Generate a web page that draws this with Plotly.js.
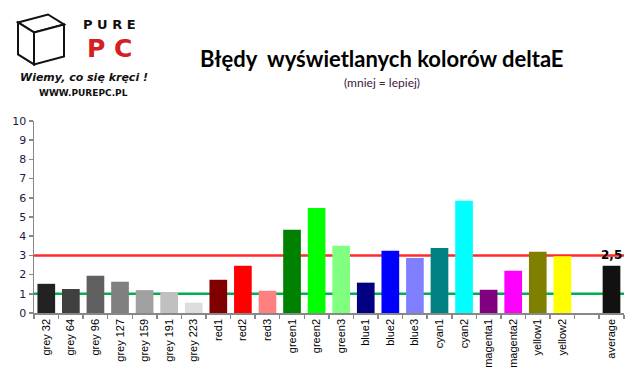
<!DOCTYPE html>
<html><head><meta charset="utf-8">
<script src="https://cdn.plot.ly/plotly-3.0.1.min.js"></script>
<style>html,body{margin:0;padding:0;background:#fff}#c{width:639px;height:379px}</style>
</head><body><div id="c"></div>
<script>
const categories = ["grey 32","grey 64","grey 96","grey 127","grey 159","grey 191","grey 223","red1","red2","red3","green1","green2","green3","blue1","blue2","blue3","cyan1","cyan2","magenta1","magenta2","yellow1","yellow2"," ","average"];
const values = [1.52,1.25,1.94,1.63,1.19,1.09,0.54,1.73,2.46,1.16,4.33,5.47,3.50,1.58,3.24,2.87,3.39,5.84,1.21,2.20,3.19,2.95,null,2.46];
const barColors = ["#222222","#404040","#606060","#808080","#a0a0a0","#c0c0c0","#dddddd","#800000","#ff0000","#ff8080","#008000","#00ff00","#80ff80","#000080","#0000ff","#8080ff","#008080","#00ffff","#800080","#ff00ff","#808000","#ffff00","#ffffff","#111111"];
const yTicks = [0,1,2,3,4,5,6,7,8,9,10];
const refLines = [3, 1];
const refColors = ["#ff2a2a", "#00b050"];
const averageLabel = "2,5";

const L = 34, R = 624, T = 120.7, B = 313;
const px = x => (x - L) / (R - L);
const py = y => (B - y) / (B - T);

const shapes = refLines.map((v, i) => ({
  type: "line", xref: "paper", yref: "y", x0: 0, x1: 1, y0: v, y1: v,
  line: {color: refColors[i], width: 2.5}, layer: "below"
}));
// logo box icon (approximation)
const box = (pts) => "M" + pts.map(p => px(p[0]) + "," + py(p[1])).join(" L") + " Z";
shapes.push({type: "path", xref: "paper", yref: "paper", path: box([[18,22],[48,14],[64,24],[34,32]]), line: {color: "#111", width: 2}, fillcolor: "#fff"});
shapes.push({type: "path", xref: "paper", yref: "paper", path: box([[18,22],[34,32],[34,64],[18,54]]), line: {color: "#111", width: 2}, fillcolor: "#fff"});
shapes.push({type: "path", xref: "paper", yref: "paper", path: box([[34,32],[64,24],[64,56],[34,64]]), line: {color: "#111", width: 2}, fillcolor: "#fff"});

const annotations = [
  {text: "<b>Błędy  wyświetlanych kolorów deltaE</b>", xref: "paper", yref: "paper", x: px(381), y: py(58), showarrow: false,
   font: {family: "Lato, 'Open Sans', sans-serif", size: 22, color: "#000"}, xanchor: "center", yanchor: "middle"},
  {text: "(mniej = lepiej)", xref: "paper", yref: "paper", x: px(382), y: py(82), showarrow: false,
   font: {family: "Lato, 'Open Sans', sans-serif", size: 12, color: "#402040"}, xanchor: "center", yanchor: "middle"},
  {text: "<b>" + averageLabel + "</b>", xref: "x", yref: "y", x: categories[categories.length - 1], y: values[values.length - 1],
   showarrow: false, yanchor: "bottom", yshift: 2, font: {family: "'DejaVu Sans', sans-serif", size: 12, color: "#000"}},
  {text: "<b>P U R E</b>", xref: "paper", yref: "paper", x: px(109), y: py(24), showarrow: false,
   font: {family: "'DejaVu Sans', sans-serif", size: 13, color: "#111"}, xanchor: "center", yanchor: "middle"},
  {text: "<b>P C</b>", xref: "paper", yref: "paper", x: px(109), y: py(48), showarrow: false,
   font: {family: "'DejaVu Sans', sans-serif", size: 25, color: "#d42020"}, xanchor: "center", yanchor: "middle"},
  {text: "<b><i>Wiemy, co się kręci !</i></b>", xref: "paper", yref: "paper", x: px(84), y: py(77), showarrow: false,
   font: {family: "'DejaVu Sans', sans-serif", size: 11, color: "#111"}, xanchor: "center", yanchor: "middle"},
  {text: "<b>WWW.PUREPC.PL</b>", xref: "paper", yref: "paper", x: px(83), y: py(93), showarrow: false,
   font: {family: "'DejaVu Sans', sans-serif", size: 9, color: "#111"}, xanchor: "center", yanchor: "middle"}
];

const trace = {
  type: "bar", x: categories, y: values, marker: {color: barColors, line: {width: 0}},
  width: 0.72, hoverinfo: "none"
};

const layout = {
  width: 639, height: 379,
  margin: {l: L, r: 639 - R, t: T, b: 379 - B, pad: 0},
  paper_bgcolor: "#fff", plot_bgcolor: "#fff",
  showlegend: false,
  xaxis: {
    type: "category", categoryorder: "array", categoryarray: categories,
    showline: true, linecolor: "#888", linewidth: 1.5,
    ticks: "outside", tickson: "boundaries", ticklen: 4, tickcolor: "#888", tickwidth: 1.5,
    tickangle: -90, tickfont: {family: "'Liberation Sans', Arial, sans-serif", size: 11, color: "#000"},
    showgrid: false, zeroline: false, fixedrange: true
  },
  yaxis: {
    range: [0, 10], tickvals: yTicks, ticktext: yTicks.map(String),
    showline: true, linecolor: "#888", linewidth: 1.5,
    ticks: "outside", ticklen: 4, tickcolor: "#888", tickwidth: 1.5,
    tickfont: {family: "'DejaVu Sans', sans-serif", size: 11, color: "#1a1a40"},
    showgrid: false, zeroline: false, fixedrange: true
  },
  shapes: shapes,
  annotations: annotations
};

Plotly.newPlot("c", [trace], layout, {displayModeBar: false, staticPlot: true});
</script>
</body></html>
